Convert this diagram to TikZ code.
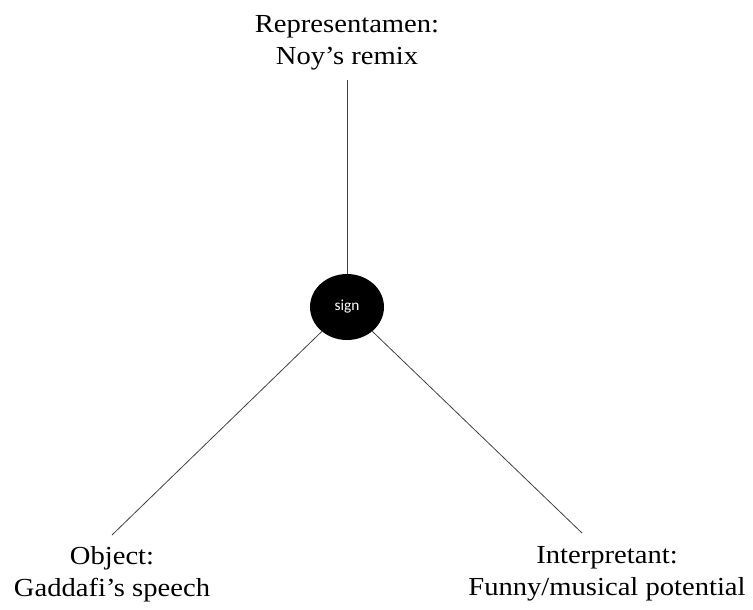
\documentclass[tikz,border=0pt]{standalone}
\usepackage{fontspec}
\setmainfont{Liberation Serif}[FakeStretch=1.1]
\newfontfamily\signfont{Carlito}
\usetikzlibrary{positioning,shapes.geometric}

\begin{document}
\begin{tikzpicture}[x=0.75pt,y=-0.75pt]
  \tikzstyle{term}=[align=center,inner sep=0pt,anchor=north,font=\fontsize{19.5}{24}\selectfont]
  \tikzstyle{link}=[draw=black!75,line width=0.6pt]
  \useasboundingbox (0,0) rectangle (753,610);
  \node[ellipse,fill=black,minimum width=55.5pt,minimum height=49.5pt,inner sep=0pt,text=white,font=\signfont\fontsize{11.5}{13}\selectfont] (sign) at (347,307) {sign};
  \node[term] (rep) at (347,15) {Representamen:\\Noy’s remix};
  \node[term] (obj) at (112,546) {Object:\\Gaddafi’s speech};
  \node[term] (interp) at (607,546) {Interpretant:\\Funny/musical potential};
  \coordinate (oend) at (112,535);
  \coordinate (iend) at (582,533);
  \draw[link,shorten <=7.5pt] (rep) -- (sign);
  \draw[link] (sign) -- (oend);
  \draw[link] (sign) -- (iend);
\end{tikzpicture}
\end{document}
